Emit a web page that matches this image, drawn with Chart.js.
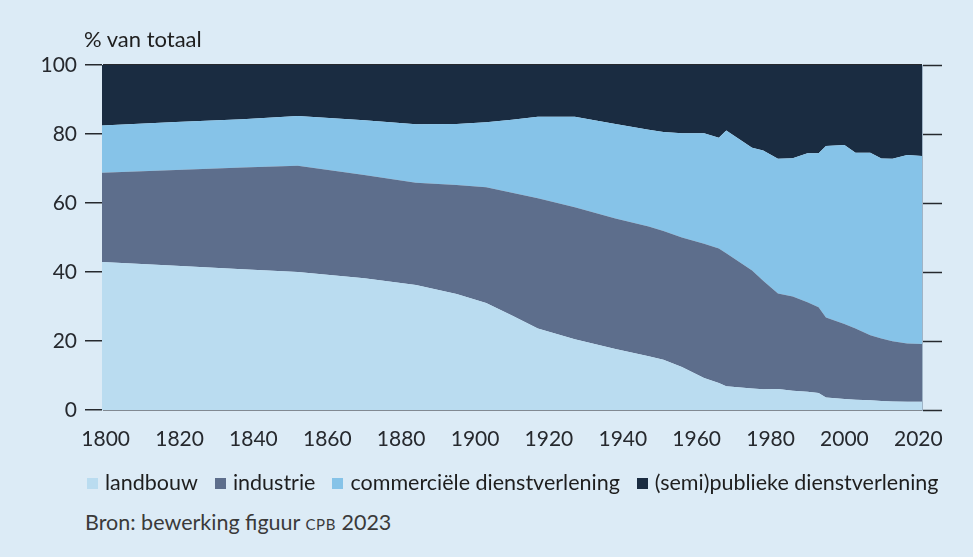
<!DOCTYPE html>
<html>
<head>
<meta charset="utf-8">
<script src="https://cdn.jsdelivr.net/npm/chart.js@4/dist/chart.umd.min.js"></script>
<style>
  body { margin: 0; background: #dcebf6; font-family: Lato, sans-serif; color: #1e1e1e; }
  #wrap { position: relative; width: 973px; height: 557px; overflow: hidden; }
  #chart { position: absolute; left: 0; top: 0; }
  #ytitle { position: absolute; left: 84px; top: 25px; font-size: 22px; }
  #legend { position: absolute; left: 87px; top: 469px; font-size: 21.5px; white-space: nowrap; }
  #legend span.item { display: inline-block; margin-right: 17px; }
  #legend i { display: inline-block; width: 11px; height: 11px; margin-right: 7px; vertical-align: 1px; }
  #source { position: absolute; left: 85px; top: 509px; font-size: 21.5px; color: #3a3a3a; }
  #source .sc { font-size: 15px; letter-spacing: 0.6px; }
</style>
</head>
<body>
<div id="wrap">
  <canvas id="chart" width="973" height="470"></canvas>
  <div id="ytitle">% van totaal</div>
  <div id="legend"></div>
  <div id="source">Bron: bewerking figuur <span class="sc">CPB</span> 2023</div>
</div>
<script>
  'use strict';

  // jaren en aandelen per sector (% van totaal)
  var years = [1799, 1819, 1837, 1852, 1870, 1884, 1895, 1903, 1910, 1917, 1927, 1938, 1947, 1951, 1956, 1962,
    1966, 1968, 1975, 1978, 1982, 1986, 1990, 1993, 1995, 2000, 2003, 2007, 2010, 2013, 2017, 2021];
  var landbouw = [42.9, 41.8, 40.8, 40.0, 38.2, 36.2, 33.6, 31.0, 27.4, 23.6, 20.5, 17.7, 15.6, 14.6, 12.5, 9.3,
    7.8, 6.9, 6.2, 6.0, 6.1, 5.6, 5.3, 4.9, 3.6, 3.2, 3.0, 2.8, 2.6, 2.5, 2.4, 2.4];
  var industrie = [25.9, 27.8, 29.5, 30.8, 29.9, 29.7, 31.6, 33.6, 35.6, 37.8, 38.3, 37.8, 37.6, 37.3, 37.5, 38.9,
    39.0, 38.5, 34.2, 31.5, 27.7, 27.3, 25.9, 24.9, 23.2, 21.7, 20.6, 18.9, 18.1, 17.4, 16.9, 16.7];
  var commercieel = [13.7, 13.9, 14.0, 14.4, 15.9, 16.9, 17.7, 18.8, 21.1, 23.6, 26.2, 27.4, 28.0, 28.7, 30.2, 32.0,
    32.1, 35.6, 35.6, 37.7, 39.0, 40.1, 43.2, 44.6, 49.7, 51.9, 51.0, 52.9, 52.2, 52.9, 54.6, 54.5];
  var publiek = [17.5, 16.5, 15.7, 14.8, 16.0, 17.2, 17.1, 16.6, 15.9, 15.0, 15.0, 17.1, 18.8, 19.4, 19.8, 19.8,
    21.1, 19.0, 24.0, 24.8, 27.2, 27.0, 25.6, 25.6, 23.5, 23.2, 25.4, 25.4, 27.1, 27.2, 26.1, 26.4];

  var xTicks = [1800, 1820, 1840, 1860, 1880, 1900, 1920, 1940, 1960, 1980, 2000, 2020];
  var yTicks = [0, 20, 40, 60, 80, 100];

  var seriesNames = ['landbouw', 'industrie', 'commerciële dienstverlening', '(semi)publieke dienstverlening'];
  var seriesValues = [landbouw, industrie, commercieel, publiek];
  var colors = ['#badcf0', '#5d6e8c', '#86c3e8', '#1a2c41'];

  var ink = '#26292e';

  function points(values) {
    var pts = [];
    for (var i = 0; i < years.length; i++) {
      pts.push({ x: years[i], y: values[i] });
    }
    return pts;
  }

  var datasets = [];
  for (var s = 0; s < seriesNames.length; s++) {
    datasets.push({
      label: seriesNames[s],
      data: points(seriesValues[s]),
      backgroundColor: colors[s],
      borderWidth: 0,
      pointRadius: 0,
      fill: s === 0 ? 'origin' : '-1',
      tension: 0
    });
  }

  var fixedTicks = function (list) {
    return function (scale) {
      scale.ticks = list.map(function (v) { return { value: v }; });
    };
  };

  var ctx = document.getElementById('chart').getContext('2d');
  var chart = new Chart(ctx, {
    type: 'line',
    data: { datasets: datasets },
    options: {
      responsive: false,
      animation: false,
      events: [],
      layout: { padding: { top: 65, left: 0, right: 0, bottom: 0 } },
      plugins: { legend: { display: false }, tooltip: { enabled: false } },
      scales: {
        x: {
          type: 'linear',
          min: 1799,
          max: 2021,
          afterBuildTicks: fixedTicks(xTicks),
          afterFit: function (scale) { scale.height = 60; },
          grid: { display: false },
          border: { display: false },
          ticks: {
            color: ink,
            padding: 9,
            maxRotation: 0,
            font: { family: 'Lato', size: 21 },
            callback: function (v) { return String(v); }
          }
        },
        y: {
          position: 'left',
          stacked: true,
          min: 0,
          max: 100,
          z: 1,
          afterBuildTicks: fixedTicks(yTicks),
          afterFit: function (scale) { scale.width = 102; },
          grid: {
            drawOnChartArea: true,
            tickLength: 17,
            lineWidth: 1.5,
            tickWidth: 1.5,
            tickColor: ink,
            color: function (c) {
              return (c.tick && (c.tick.value === 0 || c.tick.value === 100)) ? ink : 'rgba(0,0,0,0)';
            }
          },
          border: { display: true, color: 'rgba(205,228,242,0.9)', width: 1 },
          ticks: { color: ink, padding: 8, font: { family: 'Lato', size: 21 } }
        },
        y2: {
          position: 'right',
          min: 0,
          max: 100,
          afterBuildTicks: fixedTicks(yTicks),
          afterFit: function (scale) { scale.width = 51; },
          grid: { drawOnChartArea: false, tickLength: 20, tickWidth: 1.5, tickColor: ink },
          border: { display: true, color: '#9fb4c7', width: 1 },
          ticks: { display: false }
        }
      }
    }
  });

  // legenda
  var legend = document.getElementById('legend');
  for (var k = 0; k < seriesNames.length; k++) {
    var item = document.createElement('span');
    item.className = 'item';
    var box = document.createElement('i');
    box.style.background = colors[k];
    item.appendChild(box);
    item.appendChild(document.createTextNode(seriesNames[k]));
    legend.appendChild(item);
  }
</script>
</body>
</html>
